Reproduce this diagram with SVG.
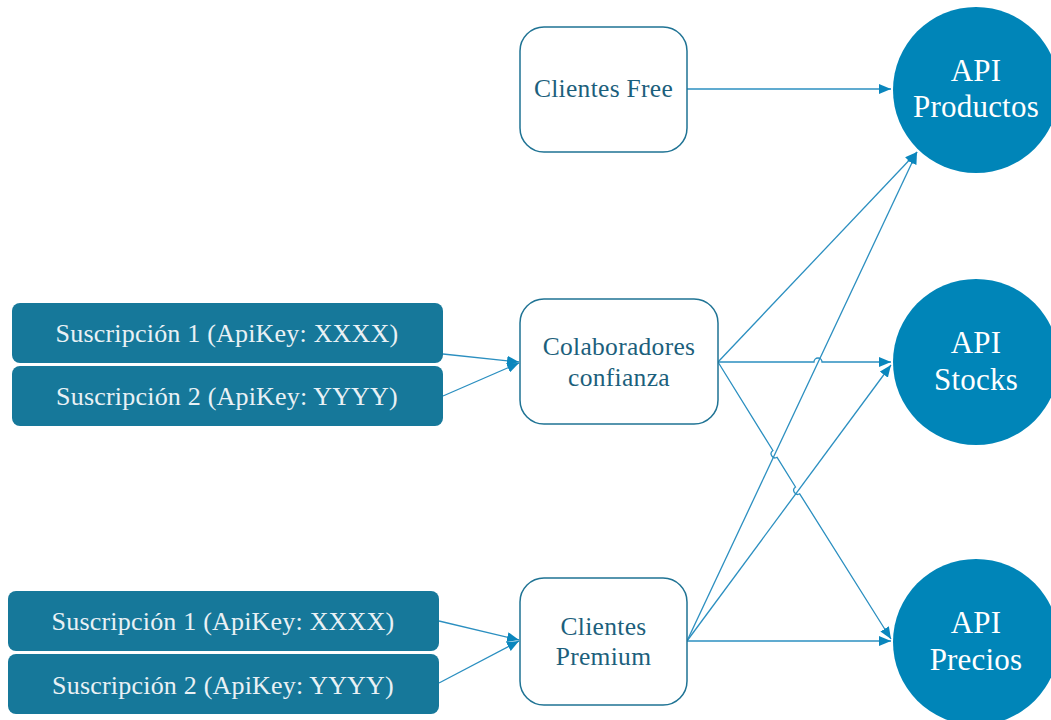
<svg xmlns="http://www.w3.org/2000/svg" width="1051" height="720" viewBox="0 0 1051 720">
<style>
.box{fill:#ffffff;stroke:#1f7394;stroke-width:1.5}
.sub{fill:#16789a;stroke:none}
.api{fill:#0085b8}
.tb{font-family:"Liberation Serif",serif;font-size:25.5px;letter-spacing:0.3px;fill:#1c5f7c;text-anchor:middle}
.ts{font-family:"Liberation Serif",serif;font-size:26px;letter-spacing:0.2px;fill:#e9f1f5;text-anchor:middle}
.ta{font-family:"Liberation Serif",serif;font-size:31px;letter-spacing:0.2px;fill:#ffffff;text-anchor:middle}
.c{fill:none;stroke:#2b8fc0;stroke-width:1.3}
</style>
<defs>
<marker id="ah" viewBox="0 0 12 10" refX="12" refY="5" markerWidth="12" markerHeight="10" markerUnits="userSpaceOnUse" orient="auto">
<path d="M0,0 L12,5 L0,10 Z" fill="#0a86bd"/>
</marker>
</defs>
<g id="connectors">
<path class="c" d="M687,89 L891,89" marker-end="url(#ah)"/>
<path class="c" d="M443,354 L519,362" marker-end="url(#ah)"/>
<path class="c" d="M443,396 L519,363" marker-end="url(#ah)"/>
<path class="c" d="M439,621 L519,640" marker-end="url(#ah)"/>
<path class="c" d="M439,683 L519,641" marker-end="url(#ah)"/>
<path class="c" d="M718,362 L917,152" marker-end="url(#ah)"/>
<path class="c" d="M718,362 L814,362 A4,4 0 0 1 822,362 L891,362" marker-end="url(#ah)"/>
<path class="c" d="M718,362 L772.9,450.5 A4,4 0 0 0 777.1,457.3 L795.5,487 A4,4 0 0 0 799.7,493.8 L891,639" marker-end="url(#ah)"/>
<path class="c" d="M687,641 L917,152" marker-end="url(#ah)"/>
<path class="c" d="M687,641 L891,365" marker-end="url(#ah)"/>
<path class="c" d="M687,641 L891,641" marker-end="url(#ah)"/>
</g>
<g id="clientes-free">
<rect class="box" x="520" y="27" width="167" height="125" rx="24"/>
<text class="tb" x="603.5" y="97">Clientes Free</text>
</g>
<g id="colaboradores">
<rect class="box" x="520" y="299" width="198" height="125" rx="24"/>
<text class="tb" x="619" y="355">Colaboradores</text>
<text class="tb" x="619" y="386">confianza</text>
</g>
<g id="clientes-premium">
<rect class="box" x="520" y="578" width="167" height="127" rx="24"/>
<text class="tb" x="603.5" y="635">Clientes</text>
<text class="tb" x="603.5" y="665">Premium</text>
</g>
<g id="sub1-colab">
<rect class="sub" x="12" y="303" width="431" height="60" rx="8"/>
<text class="ts" x="227" y="342">Suscripción 1 (ApiKey: XXXX)</text>
</g>
<g id="sub2-colab">
<rect class="sub" x="12" y="366" width="431" height="60" rx="8"/>
<text class="ts" x="227" y="405">Suscripción 2 (ApiKey: YYYY)</text>
</g>
<g id="sub1-premium">
<rect class="sub" x="8" y="591" width="431" height="60" rx="8"/>
<text class="ts" x="223" y="630">Suscripción 1 (ApiKey: XXXX)</text>
</g>
<g id="sub2-premium">
<rect class="sub" x="8" y="654" width="431" height="60" rx="8"/>
<text class="ts" x="223" y="694">Suscripción 2 (ApiKey: YYYY)</text>
</g>
<g id="api-productos">
<circle class="api" cx="976" cy="90" r="83"/>
<text class="ta" x="976" y="81">API</text>
<text class="ta" x="976" y="117">Productos</text>
</g>
<g id="api-stocks">
<circle class="api" cx="976" cy="362" r="83"/>
<text class="ta" x="976" y="353">API</text>
<text class="ta" x="976" y="390">Stocks</text>
</g>
<g id="api-precios">
<circle class="api" cx="976" cy="642" r="83"/>
<text class="ta" x="976" y="633">API</text>
<text class="ta" x="976" y="670">Precios</text>
</g>
</svg>
